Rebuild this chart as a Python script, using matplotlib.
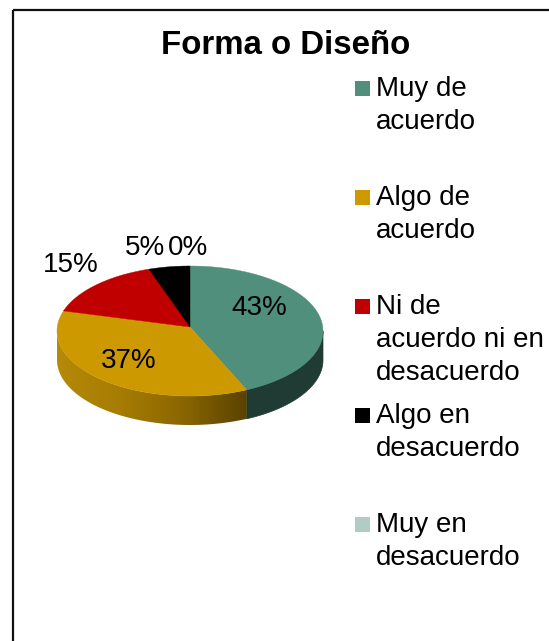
import numpy as np
import matplotlib
matplotlib.use("Agg")
import matplotlib.pyplot as plt
from matplotlib.patches import Polygon, Rectangle
from matplotlib.colors import LinearSegmentedColormap

plt.rcParams['font.family'] = ['Liberation Sans', 'DejaVu Sans']

title = "Forma o Diseño"
categories = ["Muy de\nacuerdo", "Algo de\nacuerdo", "Ni de\nacuerdo ni en\ndesacuerdo",
              "Algo en\ndesacuerdo", "Muy en\ndesacuerdo"]
values = [43, 37, 15, 5, 0]
labels = ["43%", "37%", "15%", "5%", "0%"]
colors = ["#4F8F7B", "#CC9900", "#C00000", "#000000", "#B2CBC4"]
label_pos = [(259, 308), (129, 361), (71, 265), (145, 248), (188, 248)]
legend_y = [88, 197, 306, 415, 524]

W, H = 549, 641
fig = plt.figure(figsize=(W / 100, H / 100), dpi=100, facecolor="white")
ax = fig.add_axes([0, 0, 1, 1])
ax.set_xlim(0, W)
ax.set_ylim(H, 0)
ax.axis("off")

# chart frame
ax.plot([13, 13], [H, 10], color="#111111", lw=1.6, solid_capstyle="butt")
ax.plot([13, W], [10, 10], color="#111111", lw=1.6, solid_capstyle="butt")

cx, cy, rx, ry, depth = 190, 331, 133, 65, 29
apex = (190, 327)

def rim(a0, a1, dy=0, n=120):
    t = np.radians(np.linspace(a0, a1, n))
    return np.c_[cx + rx * np.sin(t), cy - ry * np.cos(t) + dy]

cum = np.cumsum([0] + values) / sum(values) * 360
starts, ends = cum[:-1], cum[1:]

# side walls (visible only on the front half)
side_cmap = LinearSegmentedColormap.from_list(
    "side", ["#B58A08", "#A67C02", "#8A6600", "#5A4200"])
for i, (a0, a1) in enumerate(zip(starts, ends)):
    lo, hi = max(a0, 90), min(a1, 270)
    if hi <= lo:
        continue
    wall = np.vstack([rim(lo, hi), rim(hi, lo, depth)])
    if i == 0:
        ax.add_patch(Polygon(wall, closed=True, fc="#1F3B34", ec="#1F3B34", lw=0.5, zorder=2))
    else:
        poly = Polygon(wall, closed=True, fc="none", ec="none", zorder=2)
        ax.add_patch(poly)
        x0, x1 = wall[:, 0].min(), wall[:, 0].max()
        y0, y1 = wall[:, 1].min(), wall[:, 1].max()
        img = ax.imshow(np.linspace(0, 1, 256)[None, :], cmap=side_cmap, aspect="auto",
                        extent=(x0, x1, y1, y0), zorder=2)
        img.set_clip_path(poly)
ax.set_xlim(0, W)
ax.set_ylim(H, 0)

# top faces
for a0, a1, c in zip(starts, ends, colors):
    if a1 <= a0:
        continue
    ax.add_patch(Polygon(np.vstack([apex, rim(a0, a1)]), closed=True, fc=c, ec=c, lw=0.3, zorder=3))

# data labels
for (x, y), s in zip(label_pos, labels):
    ax.text(x, y, s, fontsize=20, color="black", ha="center", va="center", zorder=4)

# title
ax.text(285.5, 45, title, fontsize=23.8, fontweight="bold", color="black", ha="center", va="center")

# legend
for y, c, s in zip(legend_y, colors, categories):
    ax.add_patch(Rectangle((355, y - 7), 15, 15, fc=c, ec="none"))
    ax.text(376, y - 12, s, fontsize=20, color="black", ha="left", va="top", linespacing=1.34)

fig.savefig("out.png", dpi=100, facecolor="white")
